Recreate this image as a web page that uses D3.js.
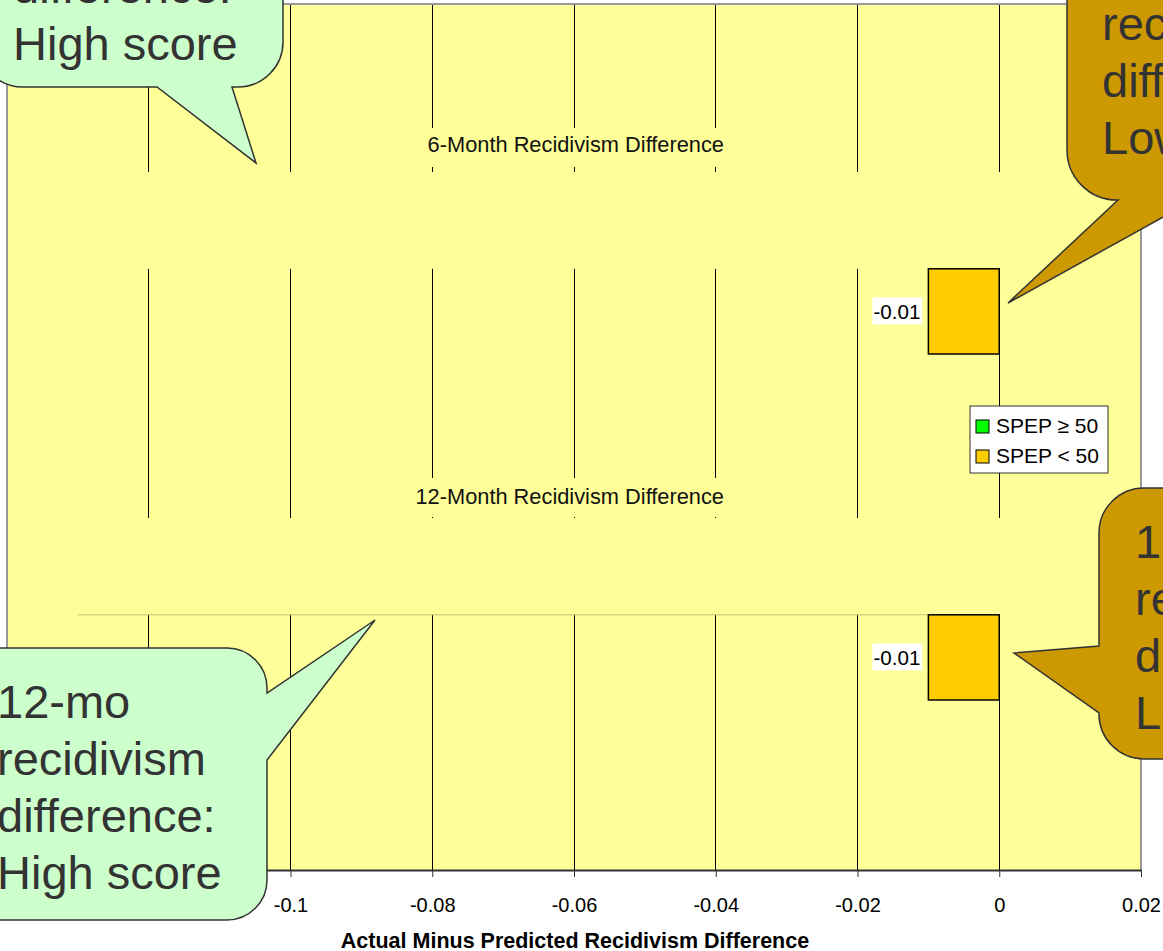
<!DOCTYPE html>
<html>
<head>
<meta charset="utf-8">
<script src="https://cdn.jsdelivr.net/npm/d3@7"></script>
<style>
  html, body { margin: 0; padding: 0; background: #ffffff; }
  svg { display: block; }
  text { font-family: Arial, "Liberation Sans", sans-serif; }
</style>
</head>
<body>
<svg id="chart" width="1163" height="951"></svg>
<script>
// ---------- data ----------
const periods = ["6-Month Recidivism Difference", "12-Month Recidivism Difference"];
const seriesNames = ["SPEP \u2265 50", "SPEP < 50"];
const spepHighValues = [-0.14, -0.13];   // SPEP >= 50 (drawn in plot colour in the original)
const spepLowValues = [-0.01, -0.01];    // SPEP < 50
const spepLowLabels = ["-0.01", "-0.01"];
const xTickValues = [-0.14, -0.12, -0.1, -0.08, -0.06, -0.04, -0.02, 0, 0.02];
// labels for -0.14 and -0.12 sit under the callout in the original, so they are left blank
const xTickLabels = ["", "", "-0.1", "-0.08", "-0.06", "-0.04", "-0.02", "0", "0.02"];
const xAxisTitle = "Actual Minus Predicted Recidivism Difference";
const calloutTexts = [
  ["6-mo", "recidivism", "difference:", "High score"],
  ["6-mo", "recidivism", "difference:", "Low score"],
  ["12-mo", "recidivism", "difference:", "High score"],
  ["12-mo", "recidivism", "difference:", "Low score"]
];
const seriesColors = ["#00FF00", "#FFCC00"];

// ---------- layout ----------
const svg = d3.select("#chart");
const plot = { left: 7, right: 1141, top: 4, bottom: 870 };
const plotFill = "#FFFF99";

const x = d3.scaleLinear().domain([-0.14, 0.02]).range([plot.left, plot.right]);
const yOuter = d3.scaleBand().domain(periods).range([172, 864]);
const ySub = d3.scaleBand().domain(seriesNames).range([0, 182]).paddingInner(0.12);

// plot background
svg.append("rect")
  .attr("x", plot.left).attr("y", plot.top)
  .attr("width", plot.right - plot.left).attr("height", plot.bottom - plot.top)
  .attr("fill", plotFill);

// vertical gridlines
svg.append("g").selectAll("line").data(xTickValues).join("line")
  .attr("x1", d => x(d)).attr("x2", d => x(d))
  .attr("y1", plot.top).attr("y2", plot.bottom)
  .attr("stroke", "#000").attr("stroke-width", 1)
  .attr("shape-rendering", "crispEdges");

// SPEP >= 50 bars (plot-coloured bands)
const hiG = svg.append("g");
hiG.selectAll("rect").data(periods).join("rect")
  .attr("x", (d, i) => x(spepHighValues[i]))
  .attr("width", (d, i) => x(0) - x(spepHighValues[i]) + 1)
  .attr("y", d => yOuter(d))
  .attr("height", ySub.step())
  .attr("fill", plotFill);
hiG.selectAll("line").data(periods.filter((d, i) => i === 1)).join("line")
  .attr("x1", x(spepHighValues[1])).attr("x2", x(0))
  .attr("y1", d => yOuter(d) + ySub.step()).attr("y2", d => yOuter(d) + ySub.step())
  .attr("stroke", "#C8C07A").attr("stroke-width", 1);

// category labels
const catG = svg.append("g");
catG.selectAll("rect").data(periods).join("rect")
  .attr("x", 420).attr("width", 313)
  .attr("y", (d, i) => yOuter(d) - 44 + i * 4).attr("height", 39)
  .attr("fill", plotFill);
catG.selectAll("text").data(periods).join("text")
  .attr("x", 724).attr("y", (d, i) => yOuter(d) - 20 + i * 6)
  .attr("text-anchor", "end")
  .attr("font-size", "21.8px").attr("fill", "#111")
  .text(d => d);

// SPEP < 50 bars
svg.append("g").selectAll("rect").data(periods).join("rect")
  .attr("x", (d, i) => x(spepLowValues[i]))
  .attr("width", (d, i) => x(0) - x(spepLowValues[i]))
  .attr("y", d => yOuter(d) + ySub(seriesNames[1]))
  .attr("height", ySub.bandwidth())
  .attr("fill", seriesColors[1])
  .attr("stroke", "#000").attr("stroke-width", 1.5);

// data labels
const lblG = svg.append("g").selectAll("g").data(periods).join("g")
  .attr("transform", (d, i) => `translate(${x(spepLowValues[i]) - 6},${yOuter(d) + ySub(seriesNames[1]) + ySub.bandwidth() / 2})`);
lblG.append("rect").attr("x", -50).attr("y", -14).attr("width", 50).attr("height", 27).attr("fill", "#fff");
lblG.append("text").attr("x", -2).attr("y", 7.5).attr("text-anchor", "end")
  .attr("font-size", "20.6px").attr("fill", "#000")
  .text((d, i) => spepLowLabels[i]);

// plot border (left, top, right)
svg.append("path")
  .attr("d", `M${plot.left},${plot.bottom} V${plot.top} H${plot.right} V${plot.bottom}`)
  .attr("fill", "none").attr("stroke", "#999").attr("stroke-width", 2);

// x axis
const axis = d3.axisBottom(x).tickValues(xTickValues)
  .tickFormat((d, i) => xTickLabels[i]).tickSize(7).tickSizeOuter(0).tickPadding(21);
const axG = svg.append("g").attr("transform", `translate(0,${plot.bottom})`).call(axis);
axG.select(".domain").attr("stroke", "#333").attr("stroke-width", 2);
axG.selectAll(".tick line").attr("stroke", "#333");
axG.selectAll(".tick text").attr("font-size", "20px").attr("fill", "#000")
  .attr("font-family", "Arial, 'Liberation Sans', sans-serif");

svg.append("text")
  .attr("x", 575).attr("y", 948).attr("text-anchor", "middle")
  .attr("font-size", "21.5px").attr("font-weight", "bold").attr("fill", "#000")
  .text(xAxisTitle);

// legend
const leg = svg.append("g").attr("transform", "translate(970,406)");
leg.append("rect").attr("width", 138).attr("height", 67)
  .attr("fill", "#fff").attr("stroke", "#333").attr("stroke-width", 1);
const legItems = leg.selectAll("g").data(seriesNames).join("g")
  .attr("transform", (d, i) => `translate(6,${14 + i * 30})`);
legItems.append("rect").attr("width", 13).attr("height", 13)
  .attr("fill", (d, i) => seriesColors[i]).attr("stroke", "#000").attr("stroke-width", 1);
legItems.append("text").attr("x", 20).attr("y", 12.5)
  .attr("font-size", "21px").attr("fill", "#000").text(d => d);

// callouts
function calloutPath(bx, by, w, h, r, edge, b1, b2, tx, ty) {
  const p = d3.path();
  p.moveTo(bx + r, by);
  if (edge === "top") { p.lineTo(b1, by); p.lineTo(tx, ty); p.lineTo(b2, by); }
  p.lineTo(bx + w - r, by);
  p.arcTo(bx + w, by, bx + w, by + r, r);
  if (edge === "right") { p.lineTo(bx + w, b1); p.lineTo(tx, ty); p.lineTo(bx + w, b2); }
  p.lineTo(bx + w, by + h - r);
  p.arcTo(bx + w, by + h, bx + w - r, by + h, r);
  if (edge === "bottom") { p.lineTo(b2, by + h); p.lineTo(tx, ty); p.lineTo(b1, by + h); }
  p.lineTo(bx + r, by + h);
  p.arcTo(bx, by + h, bx, by + h - r, r);
  if (edge === "left") { p.lineTo(bx, b2); p.lineTo(tx, ty); p.lineTo(bx, b1); }
  p.lineTo(bx, by + r);
  p.arcTo(bx, by, bx + r, by, r);
  p.closePath();
  return p.toString();
}
const callouts = [
  { bx: -22, by: -150, w: 305, h: 237, r: 45, edge: "bottom", b1: 157, b2: 232, tx: 256, ty: 163, fill: "#CCFFCC", textX: 13, base: -111 },
  { bx: 1067, by: -150, w: 260, h: 350, r: 50, edge: "bottom", b1: 1118, b2: 1194, tx: 1008, ty: 303, fill: "#CC9900", textX: 1102, base: -17 },
  { bx: -38, by: 648, w: 305, h: 272, r: 40, edge: "right", b1: 693, b2: 760, tx: 375, ty: 620, fill: "#CCFFCC", textX: -3, base: 718 },
  { bx: 1099, by: 488, w: 300, h: 271, r: 45, edge: "left", b1: 646, b2: 713, tx: 1014, ty: 653, fill: "#CC9900", textX: 1135, base: 558 }
];
const cg = svg.append("g").selectAll("g").data(callouts).join("g");
cg.append("path")
  .attr("d", c => calloutPath(c.bx, c.by, c.w, c.h, c.r, c.edge, c.b1, c.b2, c.tx, c.ty))
  .attr("fill", c => c.fill).attr("stroke", "#333").attr("stroke-width", 1.5)
  .attr("stroke-linejoin", "miter");
cg.each(function (c, i) {
  d3.select(this).selectAll("text").data(calloutTexts[i]).join("text")
    .attr("x", c.textX).attr("y", (t, j) => c.base + j * 57)
    .attr("font-size", "47px").attr("fill", "#333")
    .text(t => t);
});
</script>
</body>
</html>
